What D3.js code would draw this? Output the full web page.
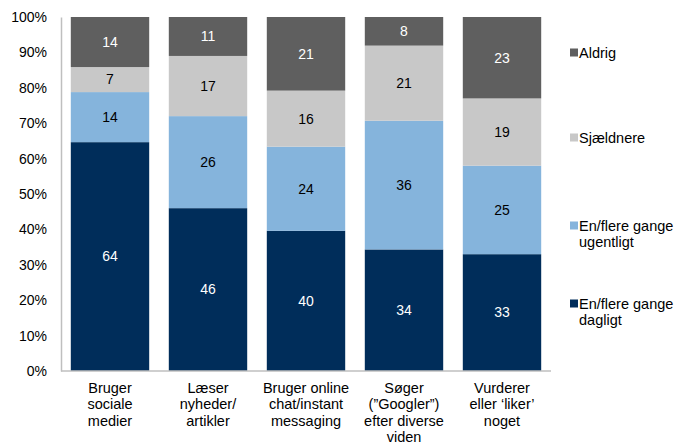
<!DOCTYPE html>
<html><head><meta charset="utf-8">
<script src="https://cdn.jsdelivr.net/npm/d3@7"></script>
<style>body{margin:0;background:#fff}text{font-family:"Liberation Sans",Arial,sans-serif}</style>
</head><body><svg id="c" width="680" height="446"></svg>
<script>
const categories = [["Bruger","sociale","medier"],["Læser","nyheder/","artikler"],["Bruger online","chat/instant","messaging"],["Søger","(\u201dGoogler\u201d)","efter diverse","viden"],["Vurderer","eller \u2018liker\u2019","noget"]];
const seriesNames = ["En/flere gange dagligt","En/flere gange ugentligt","Sjældnere","Aldrig"];
const daily = [64,46,40,34,33];
const weekly = [14,26,24,36,25];
const rarely = [7,17,16,21,19];
const never = [14,11,21,8,23];
const tickLabels = ["0%","10%","20%","30%","40%","50%","60%","70%","80%","90%","100%"];
const colors = ["#002d5a","#85b4dc","#c8c8c8","#5f5f5f"];
const labelColors = ["#fff","#000","#000","#fff"];
const legendLines = [["Aldrig"],["Sjældnere"],["En/flere gange","ugentligt"],["En/flere gange","dagligt"]];

(function(){
const svg = d3.select("#c");
const mLeft = 61, mRight = 551, mTop = 17, mBottom = 371;
const keys = ["s0","s1","s2","s3"];
const rows = categories.map((c,i)=>({i, s0:daily[i], s1:weekly[i], s2:rarely[i], s3:never[i]}));
const stack = d3.stack().keys(keys).offset(d3.stackOffsetExpand)(rows);

const x = d3.scaleBand().domain(d3.range(categories.length)).range([mLeft,mRight]).paddingInner(0.2).paddingOuter(0.1);
const y = d3.scaleLinear().domain([0,1]).range([mBottom,mTop]);

stack.forEach((layer,k)=>{
  const g = svg.append("g");
  g.selectAll("rect").data(layer).enter().append("rect")
    .attr("x",d=>x(d.data.i)).attr("width",x.bandwidth())
    .attr("y",d=>y(d[1])).attr("height",d=>y(d[0])-y(d[1]))
    .attr("fill",colors[k]);
  g.selectAll("text").data(layer).enter().append("text")
    .attr("x",d=>x(d.data.i)+x.bandwidth()/2)
    .attr("y",d=>(y(d[0])+y(d[1]))/2)
    .attr("dy","0.35em").attr("text-anchor","middle")
    .attr("font-size",14).attr("fill",labelColors[k])
    .text(d=>d.data[keys[k]]);
});

const yAxis = d3.axisLeft(y).tickValues(d3.range(0,1.01,0.1)).tickFormat((d,i)=>tickLabels[i]).tickSize(0).tickPadding(14);
const ya = svg.append("g").attr("transform",`translate(${mLeft},0)`).call(yAxis);
ya.select(".domain").attr("stroke","#bfbfbf").attr("stroke-width",1.5);
ya.selectAll("text").attr("font-size",14).attr("fill","#000").style("font-family","Liberation Sans, Arial, sans-serif");
svg.append("line").attr("x1",mLeft).attr("x2",mRight).attr("y1",mBottom).attr("y2",mBottom).attr("stroke","#bfbfbf").attr("stroke-width",1.5);

categories.forEach((lines,i)=>{
  const t = svg.append("text").attr("text-anchor","middle").attr("font-size",14.5).attr("fill","#000");
  lines.forEach((l,j)=>t.append("tspan").attr("x",x(i)+x.bandwidth()/2).attr("y",393+j*16.3).text(l));
});

const legY = [53,138,226,304];
legendLines.forEach((lines,k)=>{
  const ci = 3-k;
  svg.append("rect").attr("x",570).attr("y",legY[k]-4.5).attr("width",8).attr("height",8).attr("fill",colors[ci]);
  const t = svg.append("text").attr("font-size",14.5).attr("fill","#000");
  lines.forEach((l,j)=>t.append("tspan").attr("x",579).attr("y",legY[k]+j*15.5).attr("dy","0.35em").text(l));
});
})();
</script></body></html>
